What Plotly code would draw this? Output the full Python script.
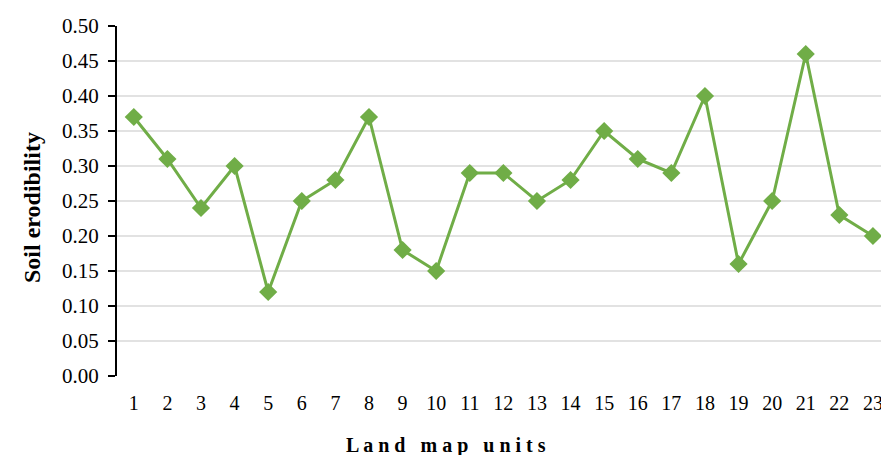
import plotly.graph_objects as go

units = list(range(1, 24))
unit_labels = [str(u) for u in units]
erodibility = [0.37, 0.31, 0.24, 0.30, 0.12, 0.25, 0.28, 0.37, 0.18, 0.15, 0.29, 0.29,
               0.25, 0.28, 0.35, 0.31, 0.29, 0.40, 0.16, 0.25, 0.46, 0.23, 0.20]
y_ticks = [0.00, 0.05, 0.10, 0.15, 0.20, 0.25, 0.30, 0.35, 0.40, 0.45, 0.50]
y_tick_text = ["%.2f" % v for v in y_ticks]
grid_vals = y_ticks[1:-1]

GREEN = "#70AD47"
FONT = "Liberation Serif, Times New Roman, serif"

fig = go.Figure()
fig.add_trace(go.Scatter(
    x=units, y=erodibility, mode="lines+markers",
    line=dict(color=GREEN, width=3),
    marker=dict(symbol="diamond", size=14, color=GREEN),
    showlegend=False, xaxis="x2", yaxis="y",
))

boundaries = [u + 0.5 for u in range(0, 24)]
xr = [0.5, 23.24]

shapes = [dict(type="line", xref="paper", x0=0, x1=1, yref="y", y0=g, y1=g,
               line=dict(color="#D9D9D9", width=1.5), layer="below") for g in grid_vals]

fig.update_layout(
    width=881, height=455,
    margin=dict(l=117, r=0, t=26, b=79, autoexpand=False),
    paper_bgcolor="white", plot_bgcolor="white",
    font=dict(family=FONT, size=19, color="black"),
    xaxis=dict(range=xr, tickvals=boundaries, ticktext=["" for _ in boundaries],
               ticks="outside", ticklen=7, tickwidth=1.5, tickcolor="black",
               showgrid=False, zeroline=False, showline=True, linecolor="black",
               linewidth=2, automargin=False),
    xaxis2=dict(range=xr, overlaying="x", tickvals=units, ticktext=unit_labels,
                ticks="outside", ticklen=9, tickcolor="rgba(0,0,0,0)",
                showgrid=False, zeroline=False, showline=False, side="bottom",
                automargin=False, ticklabeloverflow="allow",
                tickfont=dict(family=FONT, size=20)),
    yaxis=dict(range=[0, 0.5], tickvals=y_ticks, ticktext=y_tick_text,
               ticks="outside", ticklen=7, tickwidth=1.5, tickcolor="black",
               showgrid=False, zeroline=False, showline=True, linecolor="black",
               linewidth=2, automargin=False, ticklabelstandoff=5,
               tickfont=dict(family=FONT, size=21)),
    shapes=shapes,
    annotations=[
        dict(text="<b>L a n d   m a p   u n i t s</b>", xref="paper", yref="paper",
             x=(446 - 117) / 764, y=-(445 - 376) / 350, xanchor="center", yanchor="middle",
             showarrow=False, font=dict(family=FONT, size=20)),
        dict(text="<b>Soil erodibility</b>", xref="paper", yref="paper",
             x=-(117 - 32) / 764, y=(376 - 208) / 350, textangle=-90, xanchor="center",
             yanchor="middle", showarrow=False, font=dict(family=FONT, size=24)),
    ],
)

fig.write_html("out.html", post_script="document.body.style.margin='0';",
               config={"displayModeBar": False})
